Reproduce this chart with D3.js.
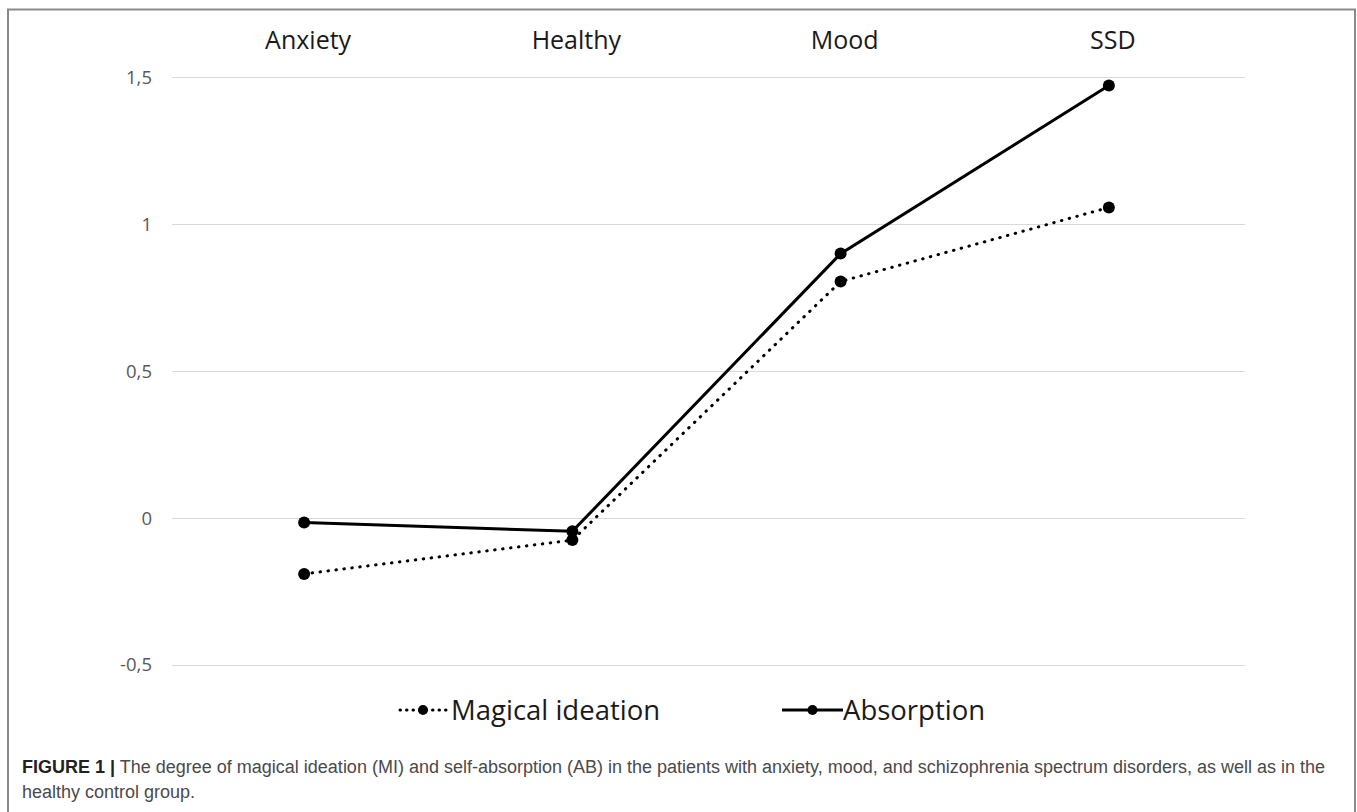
<!DOCTYPE html>
<html>
<head>
<meta charset="utf-8">
<script src="https://cdn.jsdelivr.net/npm/d3@7"></script>
<style>
  body { margin: 0; background: #fff; }
  svg { display: block; }
</style>
</head>
<body>
<svg width="1357" height="812"></svg>
<script>
// data
var groups = ["Anxiety", "Healthy", "Mood", "SSD"];
var magical = [-0.19, -0.075, 0.805, 1.057];
var absorption = [-0.015, -0.045, 0.90, 1.472];
var yTicks = [-0.5, 0, 0.5, 1, 1.5];
var seriesNames = ["Magical ideation", "Absorption"];
var captionBold = "FIGURE 1 |";
var captionLines = [
  " The degree of magical ideation (MI) and self-absorption (AB) in the patients with anxiety, mood, and schizophrenia spectrum disorders, as well as in the",
  "healthy control group."
];

var svg = d3.select("svg");

// frame around the figure
svg.append("path")
  .attr("d", "M8,812 V9.5 H1355 V812")
  .attr("fill", "none")
  .attr("stroke", "#8a8a8a")
  .attr("stroke-width", 2);

var x = d3.scaleBand()
  .domain(groups)
  .range([170, 1243]);

var y = d3.scaleLinear()
  .domain([-0.5, 1.5])
  .range([665, 77.3]);

// grid lines
svg.append("g")
  .selectAll("line")
  .data(yTicks)
  .enter()
  .append("line")
  .attr("x1", 172)
  .attr("x2", 1245)
  .attr("y1", d => Math.round(y(d)) + 0.5)
  .attr("y2", d => Math.round(y(d)) + 0.5)
  .attr("stroke", "#d9d9d9")
  .attr("stroke-width", 1);

// y tick labels
var fmt = d => String(d).replace(".", ",");
svg.append("g")
  .selectAll("text")
  .data(yTicks)
  .enter()
  .append("text")
  .attr("x", 152)
  .attr("y", d => y(d))
  .attr("dy", "0.35em")
  .attr("text-anchor", "end")
  .attr("font-family", "Open Sans, sans-serif")
  .attr("font-size", 18.5)
  .attr("fill", "#595959")
  .text(fmt);

// category labels on top
svg.append("g")
  .selectAll("text")
  .data(groups)
  .enter()
  .append("text")
  .attr("x", d => x(d) + x.bandwidth() / 2 + 4)
  .attr("y", 49)
  .attr("text-anchor", "middle")
  .attr("font-family", "Open Sans, sans-serif")
  .attr("font-size", 25)
  .attr("fill", "#1a1a1a")
  .text(d => d);

var line = d3.line()
  .x((d, i) => x(groups[i]) + x.bandwidth() / 2)
  .y(d => y(d));

function drawSeries(vals, dashed) {
  var g = svg.append("g");
  g.append("path")
    .datum(vals)
    .attr("d", line)
    .attr("fill", "none")
    .attr("stroke", "#000")
    .attr("stroke-width", 3)
    .attr("stroke-linecap", dashed ? "round" : "butt")
    .attr("stroke-dasharray", dashed ? "0.5,7.5" : null);
  g.selectAll("circle")
    .data(vals)
    .enter()
    .append("circle")
    .attr("cx", (d, i) => x(groups[i]) + x.bandwidth() / 2)
    .attr("cy", d => y(d))
    .attr("r", 6)
    .attr("fill", "#000");
}
drawSeries(magical, true);
drawSeries(absorption, false);

// legend
var legend = [
  { name: seriesNames[0], dashed: true, x0: 400, x1: 446, tx: 451 },
  { name: seriesNames[1], dashed: false, x0: 782, x1: 843, tx: 843 }
];
var lg = svg.append("g");
legend.forEach(function(l) {
  lg.append("line")
    .attr("x1", l.x0)
    .attr("x2", l.x1)
    .attr("y1", 710)
    .attr("y2", 710)
    .attr("stroke", "#000")
    .attr("stroke-width", 3)
    .attr("stroke-linecap", l.dashed ? "round" : "butt")
    .attr("stroke-dasharray", l.dashed ? "0.5,6" : null);
  lg.append("circle")
    .attr("cx", (l.x0 + l.x1) / 2)
    .attr("cy", 710)
    .attr("r", 5)
    .attr("fill", "#000");
  lg.append("text")
    .attr("x", l.tx)
    .attr("y", 710)
    .attr("dy", "0.35em")
    .attr("font-family", "Open Sans, sans-serif")
    .attr("font-size", 27.5)
    .attr("fill", "#1a1a1a")
    .text(l.name);
});

// caption
var cap = svg.append("text")
  .attr("x", 22)
  .attr("y", 773)
  .attr("font-family", "Liberation Sans, sans-serif")
  .attr("font-size", 18)
  .attr("fill", "#4a4a4a");
cap.append("tspan")
  .attr("font-weight", "bold")
  .attr("fill", "#222")
  .text(captionBold);
cap.append("tspan").text(captionLines[0]);
svg.append("text")
  .attr("x", 22)
  .attr("y", 798)
  .attr("font-family", "Liberation Sans, sans-serif")
  .attr("font-size", 18)
  .attr("fill", "#4a4a4a")
  .text(captionLines[1]);
</script>
</body>
</html>
